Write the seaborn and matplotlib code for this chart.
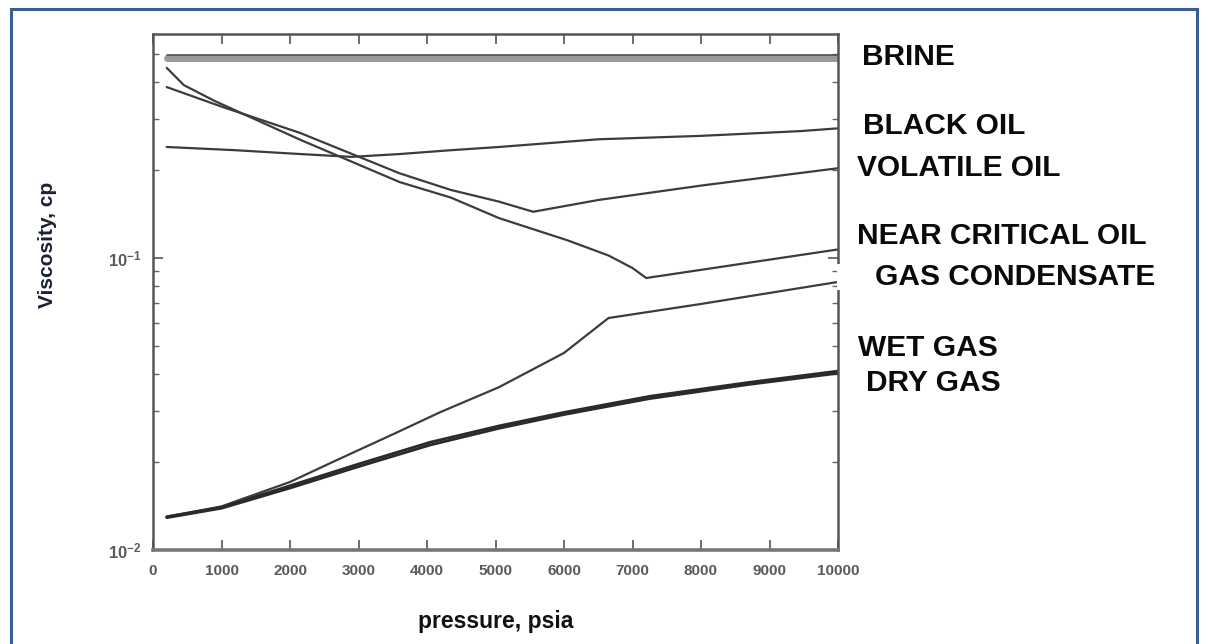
import matplotlib
matplotlib.use("Agg")
import matplotlib.pyplot as plt
import matplotlib.transforms as mtransforms
from matplotlib.patches import Rectangle
from matplotlib.ticker import LogLocator, NullFormatter, MultipleLocator
import pandas as pd
import seaborn as sns

# ---- fluid viscosity vs pressure (cp, psia) ----
p_brine = [200, 10000]
mu_brine = [0.485, 0.485]

p_black = [200, 1200, 2150, 2900, 3600, 4350, 5050, 6500, 8000, 9450, 10000]
mu_black = [0.240, 0.234, 0.227, 0.222, 0.227, 0.234, 0.240, 0.255, 0.262, 0.272, 0.278]

p_volatile = [200, 1000, 2150, 3600, 4350, 5050, 5550, 6500, 8000, 10000]
mu_volatile = [0.385, 0.330, 0.268, 0.195, 0.171, 0.156, 0.144, 0.158, 0.177, 0.203]

p_nearcrit = [200, 450, 900, 2150, 3600, 4350, 5050, 6050, 6650, 7000, 7200, 10000]
mu_nearcrit = [0.448, 0.391, 0.345, 0.254, 0.182, 0.161, 0.137, 0.115, 0.102, 0.0924, 0.0854, 0.107]

p_condensate = [200, 1000, 2000, 2600, 3550, 4200, 5050, 6000, 6650, 8000, 10000]
mu_condensate = [0.0130, 0.0141, 0.0171, 0.0199, 0.0252, 0.0297, 0.0361, 0.0473, 0.0623, 0.0696, 0.0828]

p_wet = [200, 1000, 2000, 3000, 4050, 5050, 6000, 7250, 8700, 10000]
mu_wet = [0.0130, 0.0140, 0.0166, 0.0197, 0.0234, 0.0266, 0.0296, 0.0336, 0.0375, 0.0410]

p_dry = [200, 1000, 2000, 3000, 4050, 5050, 6000, 7250, 8700, 10000]
mu_dry = [0.0129, 0.0139, 0.0163, 0.0193, 0.0229, 0.0261, 0.0291, 0.0330, 0.0369, 0.0403]

fluid_names = ["BRINE", "BLACK OIL", "VOLATILE OIL", "NEAR CRITICAL OIL",
               "GAS CONDENSATE", "WET GAS", "DRY GAS"]

x_ticks = list(range(0, 10001, 1000))

sns.set_style("ticks")
plt.rcParams["font.family"] = ["Liberation Sans", "DejaVu Sans"]

W, H = 1208, 644
fig = plt.figure(figsize=(W / 100, H / 100), dpi=100)
ax = fig.add_axes([153 / W, 1 - 550 / H, 685 / W, 516 / H])

line_col = "#3c3c3c"

def draw(p, mu, **kw):
    df = pd.DataFrame({"pressure": p, "viscosity": mu})
    sns.lineplot(data=df, x="pressure", y="viscosity", ax=ax,
                 estimator=None, sort=False, **kw)

# brine: grey band with a darker edge line on top
draw(p_brine, mu_brine, color="#9a9a9a", linewidth=5)
edge = mtransforms.offset_copy(ax.transData, fig=fig, x=0, y=2.4, units="dots")
draw(p_brine, mu_brine, color="#505050", linewidth=1.2, transform=edge)

draw(p_black, mu_black, color=line_col, linewidth=1.6)
draw(p_volatile, mu_volatile, color=line_col, linewidth=1.6)
draw(p_nearcrit, mu_nearcrit, color=line_col, linewidth=1.6)
draw(p_condensate, mu_condensate, color=line_col, linewidth=1.6)
draw(p_wet, mu_wet, color="#2a2a2a", linewidth=2.0)
draw(p_dry, mu_dry, color="#2a2a2a", linewidth=2.0)

ax.set_yscale("log")
ax.set_xlim(0, 10000)
ax.set_ylim(0.01, 0.585)

ax.xaxis.set_major_locator(MultipleLocator(1000))
ax.set_xticks(x_ticks)
ax.set_xticklabels([str(t) for t in x_ticks])
ax.yaxis.set_major_locator(LogLocator(base=10, numticks=10))
ax.yaxis.set_minor_locator(LogLocator(base=10, subs=range(2, 10), numticks=20))
ax.yaxis.set_minor_formatter(NullFormatter())

ax.tick_params(axis="both", which="major", direction="in", top=True, right=True,
               length=7, width=1.2, color="#555555", labelcolor="#5a5a5a",
               labelsize=11)
ax.tick_params(axis="x", which="major", pad=10)
ax.tick_params(axis="y", which="major", pad=8, labelsize=12)
ax.tick_params(axis="both", which="minor", direction="in", top=True, right=True,
               length=4, width=1.0, color="#666666")
for lab in ax.get_xticklabels() + ax.get_yticklabels():
    lab.set_fontweight("bold")

for side, sp in ax.spines.items():
    sp.set_color("#555555")
    sp.set_linewidth(1.8)
ax.spines["bottom"].set_linewidth(2.6)
ax.spines["bottom"].set_color("#777777")

ax.set_xlabel("pressure, psia", fontsize=16.5, fontweight="bold", color="#111111")
ax.set_ylabel("Viscosity, cp", fontsize=15, fontweight="bold", color="#1b2233")
ax.xaxis.set_label_coords(0.5, -0.117)
ax.yaxis.set_label_coords(-0.140, 0.591)

# fluid names to the right of the plot
label_pos = [(862, 57), (863, 126), (857, 168), (857, 236),
             (875, 277), (858, 348), (866, 383)]
for name, (px, py) in zip(fluid_names, label_pos):
    fig.text(px / W, 1 - py / H, name, ha="left", va="center",
             fontsize=21.5, fontweight="bold", color="#0a0a0a")

# white patch behind the condensate label, breaking the right frame line
fig.patches.append(Rectangle((837 / W, 1 - 290 / H), 30 / W, 26 / H,
                             transform=fig.transFigure, facecolor="white",
                             edgecolor="none", zorder=5))

# blue outline around the panel
fig.patches.append(Rectangle((10.5 / W, -0.05), 1186 / W, 1.05 - 8.5 / H,
                             transform=fig.transFigure, fill=False,
                             edgecolor="#3a5f94", linewidth=2.2))

fig.savefig("out.png", dpi=100, facecolor="white")
